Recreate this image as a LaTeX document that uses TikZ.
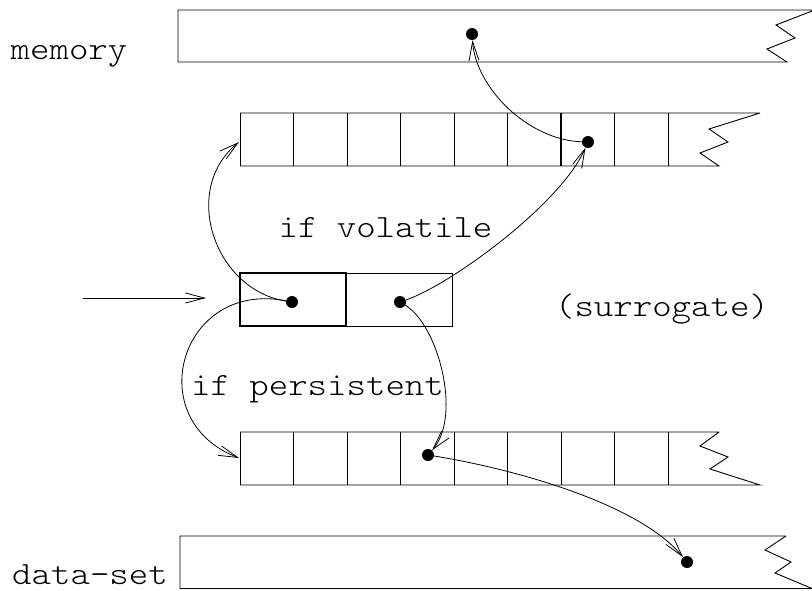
\documentclass[tikz,border=0pt]{standalone}
\usepackage{fontspec}
\usetikzlibrary{arrows.meta}
\newfontfamily\labelfont{lmmonolt10-regular.otf}[FakeStretch=1.143]

\begin{document}
\begin{tikzpicture}[x=1pt,y=-1pt,
  frame/.style={draw=black, line width=0.9pt},
  ptr/.style={line width=0.8pt, -{Straight Barb[length=19pt,width=10pt,line width=0.8pt]}},
  dot/.style={circle, fill=black, inner sep=0pt, minimum size=12pt},
  lbl/.style={font=\labelfont\fontsize{32.4}{38}\selectfont, inner sep=0pt, anchor=base},
  cell/.style={draw=black, inner sep=0pt, minimum width=106pt, minimum height=53pt}]

\useasboundingbox (0,0) rectangle (812,590);

% memory block (open to the right)
\draw[frame] (812,10) -- (178,10) -- (178,62) -- (787,62)
  -- (767,49) -- (795,38) -- (776,25) -- (812,11);

% volatile array
\foreach \k in {0,...,8}
  \draw[frame] ({240+53.5*\k},113) -- ({240+53.5*\k},166);
\draw[frame, line width=1.3pt] (561,113) -- (561,166) (614.5,113) -- (614.5,166);
\draw[frame] (760,113) -- (240,113) (240,166) -- (719,166)
  -- (700,153) -- (728,142) -- (709,129) -- (760,113);

% surrogate (two cells)
\node[cell, line width=0.8pt] (sR) at (399,299.5) {};
\node[cell, line width=1.3pt] (sL) at (293,299.5) {};

% persistent array
\foreach \k in {0,...,8}
  \draw[frame] ({240+53.5*\k},432) -- ({240+53.5*\k},485);
\draw[frame] (719,432) -- (240,432) (240,485) -- (760,485)
  -- (710,469) -- (728,457) -- (700,446) -- (719,432);

% data-set block (open to the right)
\draw[frame] (786,536) -- (180,536) -- (180,588.5) -- (812,588.5)
  -- (775,573) -- (791,562) -- (765,550) -- (786,536);

% pointers
\node[dot] (md)  at (472,34)  {};
\node[dot] (vd)  at (588,142) {};
\node[dot] (sld) at (292,302) {};
\node[dot] (srd) at (400,302) {};
\node[dot] (pd)  at (428,455) {};
\node[dot] (dd)  at (687,562) {};
\coordinate (vaIn) at (239,142);
\coordinate (paIn) at (239,458);
\coordinate (in0) at (83,298);
\coordinate (in1) at (206,298);

\draw[ptr] (in0) -- (in1);
\draw[ptr] (vd) .. controls (528,140) and (476,88) .. (md);
\draw[ptr] (sld) .. controls (215,290) and (180,190) .. (vaIn);
\draw[ptr] (sld) .. controls (180,280) and (140,420) .. (paIn);
\draw[ptr] (srd) .. controls (450,285) and (560,205) .. (vd);
\draw[ptr] (srd) .. controls (438,325) and (462,415) .. (pd);
\draw[ptr] (pd) .. controls (520,470) and (640,505) .. (dd);

% labels
\node[lbl] (tMem)  at (69,59)    {memory};
\node[lbl] (tData) at (90,584)   {data-set};
\node[lbl] (tVol)  at (385.5,237) {if volatile};
\node[lbl] (tPer)  at (317.5,395) {if persistent};
\node[lbl] (tSur)  at (662,316)  {(surrogate)};
\end{tikzpicture}
\end{document}
